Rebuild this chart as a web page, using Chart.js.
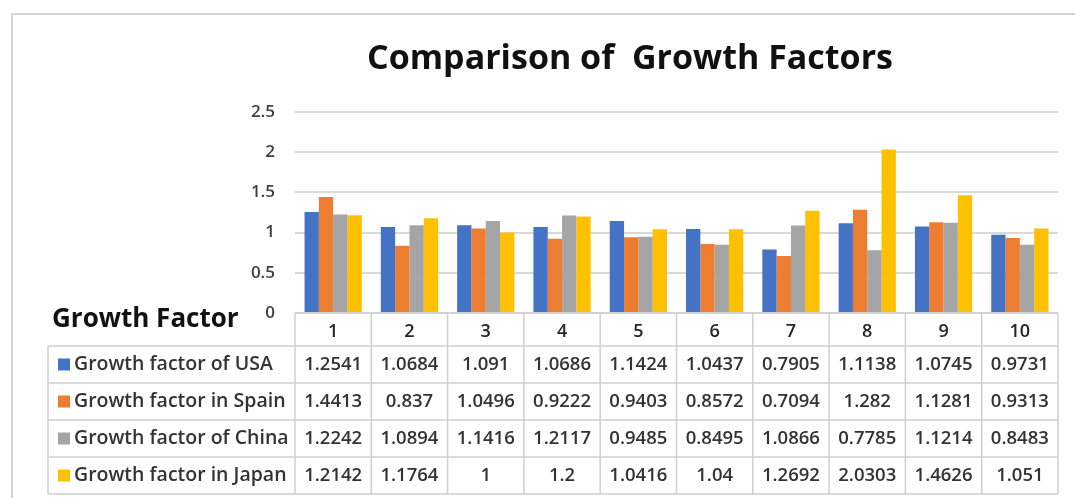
<!DOCTYPE html>
<html>
<head>
<meta charset="utf-8">
<script src="https://cdn.jsdelivr.net/npm/chart.js@4/dist/chart.umd.min.js"></script>
<style>
  html,body{margin:0;padding:0;background:#fff;}
  #wrap{position:absolute;left:0;top:0;width:1075px;height:498px;}
  #frame{position:absolute;left:11px;top:13px;width:1080px;height:500px;border:2px solid #d4d4d4;box-sizing:border-box;}
  canvas{position:absolute;left:0;top:0;}
</style>
</head>
<body>
<div id="wrap">
  <div id="frame"></div>
  <canvas id="c" width="1075" height="498"></canvas>
</div>
<script>
const categories = ['1','2','3','4','5','6','7','8','9','10'];
const seriesNames = ['Growth factor of USA','Growth factor in Spain','Growth factor of China','Growth factor in Japan'];
const usa   = [1.2541,1.0684,1.091,1.0686,1.1424,1.0437,0.7905,1.1138,1.0745,0.9731];
const spain = [1.4413,0.837,1.0496,0.9222,0.9403,0.8572,0.7094,1.282,1.1281,0.9313];
const china = [1.2242,1.0894,1.1416,1.2117,0.9485,0.8495,1.0866,0.7785,1.1214,0.8483];
const japan = [1.2142,1.1764,1,1.2,1.0416,1.04,1.2692,2.0303,1.4626,1.051];
const yTicks = [0,0.5,1,1.5,2,2.5];
const colors = ['#4472C4','#ED7D31','#A5A5A5','#FFC000'];
const seriesValues = [usa,spain,china,japan];

const FONT = '"Open Sans", sans-serif';

const tablePlugin = {
  id:'dataTable',
  afterDraw(chart){
    const ctx = chart.ctx;
    const x = chart.scales.x;
    const left = x.left, right = x.right;
    const colW = (right-left)/categories.length;
    const headTop = chart.chartArea.bottom, headBot = headTop + 33;
    const rowH = 37;
    const tableLeft = 48;
    const bottom = headBot + rowH*seriesNames.length;
    ctx.save();
    ctx.strokeStyle = '#cfcfcf';
    ctx.lineWidth = 1.5;
    ctx.beginPath();
    ctx.moveTo(left, headTop); ctx.lineTo(right, headTop);
    for(let r=0;r<=seriesNames.length;r++){
      const yy = headBot + r*rowH;
      ctx.moveTo(tableLeft, yy); ctx.lineTo(right, yy);
    }
    for(let i=0;i<=categories.length;i++){
      const xx = left + i*colW;
      ctx.moveTo(xx, headTop); ctx.lineTo(xx, bottom);
    }
    ctx.moveTo(tableLeft, headBot); ctx.lineTo(tableLeft, bottom);
    ctx.stroke();
    ctx.fillStyle = '#262626';
    ctx.textAlign = 'center';
    ctx.textBaseline = 'middle';
    ctx.font = '600 18px ' + FONT;
    categories.forEach((c,i)=>{
      ctx.fillText(c, x.getPixelForValue(i), (headTop+headBot)/2 + 2);
    });
    seriesNames.forEach((name,r)=>{
      const cy = headBot + r*rowH + rowH/2;
      ctx.fillStyle = colors[r];
      ctx.fillRect(tableLeft+10, cy-6, 12, 12);
      ctx.fillStyle = '#333333';
      ctx.textAlign = 'left';
      ctx.font = '600 19.5px ' + FONT;
      ctx.fillText(name, tableLeft+26, cy);
      ctx.font = '600 18.5px ' + FONT;
      ctx.textAlign = 'center';
      seriesValues[r].forEach((v,i)=>{
        ctx.fillText(String(v), x.getPixelForValue(i), cy);
      });
    });
    ctx.fillStyle = '#111';
    ctx.textAlign = 'left';
    ctx.font = 'bold 26px ' + FONT;
    ctx.fillText('Growth Factor', 52, 320);
    ctx.restore();
  }
};

new Chart(document.getElementById('c'), {
  type:'bar',
  data:{
    labels: categories,
    datasets: seriesNames.map((n,i)=>({
      label:n, data: seriesValues[i], backgroundColor: colors[i],
      categoryPercentage:0.75, barPercentage:1.0, borderWidth:0
    }))
  },
  plugins:[tablePlugin],
  options:{
    responsive:false, animation:false,
    layout:{padding:{left:202,right:17,top:0,bottom:185}},
    plugins:{
      legend:{display:false},
      tooltip:{enabled:false},
      title:{display:true, text:'Comparison of  Growth Factors',
        font:{family:FONT, size:34, weight:'bold'}, color:'#111',
        padding:{top:39,bottom:32}}
    },
    scales:{
      x:{display:false},
      y:{
        min:0,max:2.5,
        afterFit(s){ s.width = 93; },
        ticks:{stepSize:0.5, font:{family:FONT,size:17, weight:'600'}, color:'#404040', padding:20,
          callback:(v)=> yTicks.includes(v) ? String(v) : ''},
        grid:{color:'#d9d9d9', lineWidth:2, drawTicks:false},
        border:{display:false}
      }
    }
  }
});
</script>
</body>
</html>
